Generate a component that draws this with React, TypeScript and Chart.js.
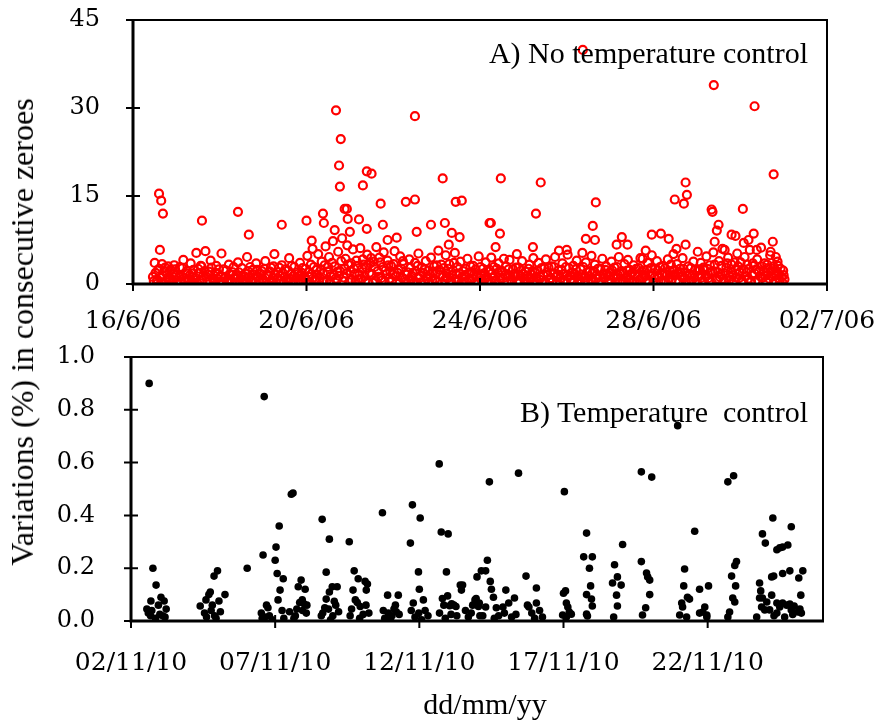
import React, { useEffect, useRef } from "react";
import { Chart, registerables } from "chart.js";

Chart.register(...registerables);

// ---------- Panel A: no temperature control (days since 16/6/06) ----------
const topDateLabels = ["16/6/06", "20/6/06", "24/6/06", "28/6/06", "02/7/06"];
const topYTicks = [0, 15, 30, 45];

const topPeakDays = [0.6, 0.65, 0.69, 0.62, 1.59, 2.42, 2.67, 3.43, 4.0, 4.12, 4.38, 4.4, 4.65, 4.68, 4.79, 4.75, 4.77, 4.88, 4.93, 4.95, 5.0, 5.21, 5.3, 5.39, 5.5, 5.39, 5.71, 5.76, 5.87, 6.08, 6.29, 6.5, 6.5, 6.54, 6.87, 7.14, 7.19, 7.28, 7.35, 7.44, 7.58, 7.53, 8.22, 10.37, 13.39, 14.33, 14.77, 8.48, 9.4, 9.29, 8.25, 8.46, 8.36, 9.22, 8.55, 10.67, 10.6, 10.44, 10.65, 11.27, 11.15, 11.4, 11.96, 12.17, 12.35, 12.49, 12.7, 12.74, 12.77, 12.74, 12.53, 13.34, 13.36, 13.5, 13.46, 13.41, 13.64, 14.06, 13.8, 13.89, 14.31, 14.19, 14.08, 14.38, 14.75, 14.7, 14.82, 14.86, 8.85, 9.82, 10.0, 11.82, 11.75, 13.02];
const topPeakVals = [15.4, 14.2, 12.0, 5.8, 10.8, 12.3, 8.4, 10.1, 10.8, 7.4, 12.0, 10.4, 9.2, 29.6, 24.7, 20.2, 16.6, 12.8, 12.8, 11.1, 8.9, 11.0, 16.8, 19.2, 18.8, 9.4, 13.7, 10.1, 7.5, 7.9, 14.0, 14.4, 28.6, 8.9, 10.1, 18.0, 10.4, 6.7, 8.7, 14.0, 14.2, 8.0, 10.4, 39.9, 33.9, 30.3, 18.7, 18.0, 17.3, 12.0, 10.4, 8.6, 6.3, 6.3, 4.3, 13.9, 9.9, 7.7, 7.5, 8.0, 6.7, 6.7, 8.4, 8.6, 7.7, 14.4, 13.7, 17.3, 15.2, 6.7, 6.0, 12.7, 12.3, 10.1, 9.1, 7.2, 5.8, 12.8, 8.4, 8.2, 8.6, 7.5, 7.0, 5.8, 7.2, 5.5, 4.6, 3.8, 5.1, 5.7, 5.8, 5.7, 4.3, 5.5];

const topBaseDays = [
  0.46, 0.5, 0.55, 0.58, 0.63, 0.67, 0.7, 0.74, 0.79, 0.83,
  0.87, 0.91, 0.95, 0.99, 1.03, 1.08, 1.12, 1.16, 1.2, 1.25,
  1.29, 1.33, 1.37, 1.41, 1.46, 1.5, 1.54, 1.58, 1.62, 1.67,
  1.71, 1.75, 1.79, 1.83, 1.88, 1.92, 1.96, 2.0, 2.04, 2.09,
  2.13, 2.17, 2.21, 2.25, 2.3, 2.34, 2.38, 2.42, 2.46, 2.51,
  2.55, 2.59, 2.63, 2.67, 2.72, 2.76, 2.8, 2.84, 2.88, 2.93,
  2.97, 3.01, 3.05, 3.09, 3.14, 3.18, 3.22, 3.26, 3.3, 3.35,
  3.39, 3.43, 3.47, 3.51, 3.56, 3.6, 3.64, 3.68, 3.72, 3.77,
  3.81, 3.85, 3.89, 3.93, 3.98, 4.02, 4.06, 4.1, 4.14, 4.19,
  4.23, 4.27, 4.31, 4.35, 4.4, 4.44, 4.48, 4.52, 4.56, 4.61,
  4.65, 4.69, 4.73, 4.77, 4.82, 4.86, 4.9, 4.94, 4.98, 5.03,
  5.07, 5.11, 5.15, 5.19, 5.24, 5.28, 5.32, 5.36, 5.4, 5.45,
  5.49, 5.53, 5.57, 5.61, 5.66, 5.7, 5.74, 5.78, 5.82, 5.87,
  5.91, 5.95, 5.99, 6.03, 6.08, 6.12, 6.16, 6.2, 6.24, 6.29,
  6.33, 6.37, 6.41, 6.45, 6.5, 6.54, 6.58, 6.62, 6.66, 6.71,
  6.75, 6.79, 6.83, 6.87, 6.92, 6.96, 7.0, 7.04, 7.08, 7.13,
  7.17, 7.21, 7.25, 7.29, 7.34, 7.38, 7.42, 7.46, 7.5, 7.55,
  7.59, 7.63, 7.67, 7.71, 7.76, 7.8, 7.84, 7.88, 7.92, 7.97,
  8.01, 8.05, 8.09, 8.13, 8.18, 8.22, 8.26, 8.3, 8.34, 8.39,
  8.43, 8.47, 8.51, 8.55, 8.6, 8.64, 8.68, 8.72, 8.76, 8.81,
  8.85, 8.89, 8.93, 8.97, 9.02, 9.06, 9.1, 9.14, 9.18, 9.23,
  9.27, 9.31, 9.35, 9.39, 9.44, 9.48, 9.52, 9.56, 9.6, 9.65,
  9.69, 9.73, 9.77, 9.81, 9.86, 9.9, 9.94, 9.98, 10.02, 10.07,
  10.11, 10.15, 10.19, 10.23, 10.28, 10.32, 10.36, 10.4, 10.44, 10.49,
  10.53, 10.57, 10.61, 10.65, 10.7, 10.74, 10.78, 10.82, 10.86, 10.91,
  10.95, 10.99, 11.03, 11.07, 11.12, 11.16, 11.2, 11.24, 11.28, 11.33,
  11.37, 11.41, 11.45, 11.49, 11.54, 11.58, 11.62, 11.66, 11.7, 11.75,
  11.79, 11.83, 11.87, 11.91, 11.96, 12.0, 12.04, 12.08, 12.12, 12.17,
  12.21, 12.25, 12.29, 12.33, 12.38, 12.42, 12.46, 12.5, 12.54, 12.59,
  12.63, 12.67, 12.71, 12.75, 12.8, 12.84, 12.88, 12.92, 12.96, 13.01,
  13.05, 13.09, 13.13, 13.17, 13.22, 13.26, 13.3, 13.34, 13.38, 13.43,
  13.47, 13.51, 13.55, 13.59, 13.63, 13.68, 13.72, 13.76, 13.8, 13.85,
  13.89, 13.93, 13.97, 14.01, 14.06, 14.1, 14.14, 14.18, 14.22, 14.27,
  14.31, 14.35, 14.39, 14.43, 14.48, 14.52, 14.56, 14.6, 14.64, 14.69,
  14.73, 14.77, 14.81, 14.85, 14.89, 14.93, 14.97, 15.0,
];
const topBaseVals = [
  1.2, 3.6, 0.4, 2.3, 1.1, 3.4, 0.2, 2.8, 1.6, 0.7,
  2.4, 0.3, 3.2, 1.5, 0.1, 2.9, 1.3, 4.1, 0.5, 2.2,
  0.9, 3.5, 1.8, 0.2, 5.3, 2.6, 0.6, 3.0, 1.4, 5.6,
  0.3, 2.1, 4.0, 1.0, 0.4, 3.1, 1.7, 0.1, 5.2, 2.5,
  1.2, 0.3, 3.3, 0.8, 2.0, 0.1, 1.5, 3.7, 0.6, 2.7,
  0.2, 1.8, 4.6, 1.1, 0.4, 2.4, 0.9, 3.5, 1.3, 0.1,
  2.2, 0.5, 3.9, 1.6, 0.3, 2.8, 1.0, 5.1, 0.2, 2.0,
  1.4, 3.2, 0.3, 2.5, 0.9, 4.4, 1.7, 0.2, 2.9, 1.1,
  0.5, 3.6, 1.9, 0.2, 2.6, 4.8, 1.2, 3.3, 6.0, 0.7,
  2.4, 5.1, 1.0, 3.8, 0.4, 6.4, 2.1, 4.6, 1.3, 7.3,
  3.0, 0.6, 5.5, 2.2, 7.8, 1.1, 4.3, 6.6, 0.3, 3.5,
  5.9, 1.7, 4.0, 0.8, 6.1, 2.6, 3.3, 0.5, 5.0, 1.9,
  4.4, 0.2, 2.9, 6.3, 1.2, 3.7, 0.6, 5.4, 2.3, 4.0,
  0.9, 3.1, 1.6, 5.6, 0.3, 2.5, 4.7, 1.1, 3.4, 0.4,
  2.0, 4.2, 0.7, 1.9, 3.6, 0.2, 5.2, 1.4, 2.8, 0.5,
  3.9, 1.3, 0.3, 4.5, 2.1, 0.8, 3.2, 5.7, 1.5, 0.2,
  2.7, 4.9, 1.0, 3.4, 0.4, 2.3, 5.3, 1.7, 0.6, 3.8,
  1.2, 0.3, 2.6, 4.3, 0.8, 2.0, 3.1, 0.2, 1.5, 4.7,
  2.9, 0.6, 1.8, 3.7, 0.3, 2.4, 4.5, 1.1, 0.4, 2.6,
  3.5, 1.0, 2.2, 0.2, 3.0, 1.6, 4.1, 0.7, 2.5, 1.3,
  0.4, 2.8, 1.4, 3.9, 0.9, 2.1, 0.3, 3.3, 1.7, 4.4,
  2.0, 0.5, 3.6, 1.2, 0.2, 2.7, 4.2, 1.5, 0.6, 3.0,
  1.8, 4.6, 0.3, 2.3, 1.0, 3.5, 0.7, 2.9, 5.0, 1.4,
  0.2, 3.1, 1.6, 4.0, 0.8, 2.5, 5.3, 1.1, 3.7, 0.4,
  2.2, 4.8, 0.6, 3.3, 1.5, 0.3, 2.6, 4.3, 1.0, 3.0,
  0.5, 2.0, 3.8, 1.3, 0.2, 2.9, 4.6, 1.7, 0.7, 3.4,
  1.1, 4.1, 2.4, 0.4, 3.2, 1.6, 0.3, 2.7, 4.4, 1.0,
  2.3, 0.6, 3.6, 1.4, 4.9, 0.2, 2.6, 3.9, 1.2, 0.5,
  3.1, 1.8, 0.3, 4.2, 2.2, 0.8, 5.1, 1.5, 3.4, 0.4,
  2.0, 4.4, 1.1, 0.3, 3.0, 1.7, 0.6, 3.8, 2.4, 0.2,
  1.4, 3.6, 0.5, 2.5, 4.7, 1.0, 3.2, 0.3, 5.4, 2.1,
  0.8, 3.9, 1.6, 6.0, 0.4, 2.8, 4.5, 1.2, 3.3, 0.6,
  2.4, 5.2, 1.0, 3.7, 0.3, 4.6, 2.0, 0.9, 5.8, 1.5,
  3.1, 0.5, 4.2, 2.2, 6.2, 1.1, 3.5, 0.4, 2.7, 4.9,
  1.3, 3.0, 0.6, 2.1, 1.0, 2.6, 0.3, 1.5,
];

const topLowDays = [
  0.48, 0.52, 0.56, 0.6, 0.65, 0.69, 0.72, 0.77, 0.81, 0.85,
  0.89, 0.93, 0.97, 1.01, 1.06, 1.1, 1.14, 1.18, 1.23, 1.27,
  1.31, 1.35, 1.39, 1.44, 1.48, 1.52, 1.56, 1.6, 1.65, 1.69,
  1.73, 1.77, 1.81, 1.86, 1.9, 1.94, 1.98, 2.02, 2.07, 2.11,
  2.15, 2.19, 2.23, 2.28, 2.32, 2.36, 2.4, 2.44, 2.49, 2.53,
  2.57, 2.61, 2.65, 2.7, 2.74, 2.78, 2.82, 2.86, 2.91, 2.95,
  2.99, 3.03, 3.07, 3.12, 3.16, 3.2, 3.24, 3.28, 3.33, 3.37,
  3.41, 3.45, 3.49, 3.54, 3.58, 3.62, 3.66, 3.7, 3.75, 3.79,
  3.83, 3.87, 3.91, 3.96, 4.0, 4.04, 4.08, 4.12, 4.17, 4.21,
  4.25, 4.29, 4.33, 4.38, 4.42, 4.46, 4.5, 4.54, 4.59, 4.63,
  4.67, 4.71, 4.75, 4.8, 4.84, 4.88, 4.92, 4.96, 5.01, 5.05,
  5.09, 5.13, 5.17, 5.22, 5.26, 5.3, 5.34, 5.38, 5.43, 5.47,
  5.51, 5.55, 5.59, 5.64, 5.68, 5.72, 5.76, 5.8, 5.85, 5.89,
  5.93, 5.97, 6.01, 6.06, 6.1, 6.14, 6.18, 6.22, 6.27, 6.31,
  6.35, 6.39, 6.43, 6.48, 6.52, 6.56, 6.6, 6.64, 6.69, 6.73,
  6.77, 6.81, 6.85, 6.9, 6.94, 6.98, 7.02, 7.06, 7.11, 7.15,
  7.19, 7.23, 7.27, 7.32, 7.36, 7.4, 7.44, 7.48, 7.53, 7.57,
  7.61, 7.65, 7.69, 7.74, 7.78, 7.82, 7.86, 7.9, 7.95, 7.99,
  8.03, 8.07, 8.11, 8.16, 8.2, 8.24, 8.28, 8.32, 8.37, 8.41,
  8.45, 8.49, 8.53, 8.58, 8.62, 8.66, 8.7, 8.74, 8.79, 8.83,
  8.87, 8.91, 8.95, 9.0, 9.04, 9.08, 9.12, 9.16, 9.21, 9.25,
  9.29, 9.33, 9.37, 9.42, 9.46, 9.5, 9.54, 9.58, 9.63, 9.67,
  9.71, 9.75, 9.79, 9.84, 9.88, 9.92, 9.96, 10.0, 10.05, 10.09,
  10.13, 10.17, 10.21, 10.26, 10.3, 10.34, 10.38, 10.42, 10.47, 10.51,
  10.55, 10.59, 10.63, 10.68, 10.72, 10.76, 10.8, 10.84, 10.89, 10.93,
  10.97, 11.01, 11.05, 11.1, 11.14, 11.18, 11.22, 11.26, 11.31, 11.35,
  11.39, 11.43, 11.47, 11.52, 11.56, 11.6, 11.64, 11.68, 11.73, 11.77,
  11.81, 11.85, 11.89, 11.94, 11.98, 12.02, 12.06, 12.1, 12.15, 12.19,
  12.23, 12.27, 12.31, 12.36, 12.4, 12.44, 12.48, 12.52, 12.57, 12.61,
  12.65, 12.69, 12.73, 12.78, 12.82, 12.86, 12.9, 12.94, 12.99, 13.03,
  13.07, 13.11, 13.15, 13.2, 13.24, 13.28, 13.32, 13.36, 13.41, 13.45,
  13.49, 13.53, 13.57, 13.62, 13.66, 13.7, 13.74, 13.78, 13.83, 13.87,
  13.91, 13.95, 13.99, 14.04, 14.08, 14.12, 14.16, 14.2, 14.25, 14.29,
  14.33, 14.37, 14.41, 14.46, 14.5, 14.54, 14.58, 14.62, 14.67, 14.71,
  14.75, 14.79, 14.83, 14.87, 14.91, 14.95, 14.99, 15.02,
];
const topLowVals = [
  0.5, 1.9, 0.8, 2.6, 0.3, 1.4, 2.2, 0.6, 3.0, 1.1,
  0.2, 1.7, 2.5, 0.6, 1.2, 0.4, 2.7, 0.9, 1.8, 0.3,
  1.5, 0.5, 2.4, 1.0, 0.2, 1.9, 3.1, 0.7, 2.2, 1.2,
  1.6, 0.6, 2.8, 0.2, 1.9, 0.9, 2.5, 1.3, 0.4, 1.0,
  2.3, 0.7, 1.6, 0.4, 2.9, 1.1, 0.3, 2.0, 1.4, 0.8,
  1.3, 0.4, 2.2, 2.9, 0.6, 1.6, 0.2, 2.4, 0.7, 1.7,
  0.9, 2.6, 0.2, 1.3, 2.1, 0.5, 3.0, 1.6, 0.9, 2.8,
  0.6, 1.9, 1.2, 0.4, 2.3, 0.9, 3.1, 1.4, 0.2, 2.0,
  1.3, 0.4, 2.7, 1.1, 0.6, 2.0, 0.3, 1.7, 2.9, 0.8,
  1.6, 0.3, 2.4, 1.8, 3.2, 0.6, 2.9, 0.4, 3.6, 1.5,
  0.9, 2.1, 1.4, 3.9, 0.5, 2.6, 1.8, 3.3, 2.2, 0.7,
  2.6, 0.4, 3.1, 1.6, 0.9, 4.2, 1.3, 2.8, 0.3, 3.5,
  1.6, 3.8, 0.6, 2.2, 4.5, 1.0, 2.9, 0.4, 1.7, 3.2,
  2.2, 0.5, 3.4, 1.3, 1.9, 0.2, 2.6, 3.9, 0.8, 1.6,
  0.6, 2.8, 1.4, 0.3, 2.2, 3.1, 1.0, 0.3, 1.9, 2.5,
  0.9, 2.3, 1.6, 0.6, 3.0, 1.8, 0.4, 2.4, 3.3, 1.2,
  0.7, 1.8, 2.6, 0.2, 1.5, 3.6, 0.8, 2.9, 1.8, 0.3,
  2.2, 1.5, 0.5, 1.8, 3.0, 0.9, 1.6, 2.5, 0.4, 1.1,
  1.5, 2.6, 0.8, 1.2, 2.1, 0.5, 1.8, 2.9, 0.6, 1.9,
  0.6, 2.2, 1.0, 1.6, 0.3, 2.5, 1.3, 0.4, 1.7, 2.8,
  1.6, 0.2, 2.3, 1.7, 0.4, 1.3, 2.6, 0.8, 2.2, 0.5,
  1.2, 2.3, 0.8, 2.7, 1.5, 0.4, 2.0, 2.8, 1.0, 0.3,
  2.9, 1.2, 1.6, 0.4, 2.4, 1.7, 0.5, 1.4, 2.7, 0.8,
  1.9, 0.6, 2.5, 1.3, 0.4, 1.6, 2.9, 0.5, 2.0, 1.3,
  0.7, 1.8, 2.2, 0.9, 2.6, 1.4, 0.4, 1.7, 2.4, 1.6,
  1.4, 0.8, 2.3, 2.8, 0.9, 1.5, 0.3, 2.2, 1.9, 0.4,
  2.3, 0.7, 1.5, 2.0, 0.4, 2.6, 1.3, 0.8, 2.2, 1.6,
  1.4, 2.4, 0.5, 2.7, 1.8, 1.1, 0.3, 2.3, 2.9, 1.6,
  0.5, 2.7, 1.6, 1.0, 3.3, 1.5, 2.4, 0.6, 1.9, 2.6,
  1.2, 2.6, 2.0, 1.4, 0.5, 2.7, 1.6, 1.1, 0.3, 2.5,
  2.4, 1.1, 2.8, 1.4, 2.6, 0.5, 1.9, 2.2, 3.3, 0.9,
  2.0, 1.2, 3.1, 0.9, 1.8, 3.5, 0.6, 2.1, 1.5, 3.7,
  1.1, 3.0, 2.0, 0.6, 2.5, 1.3, 3.3, 2.6, 0.5, 3.5,
  1.8, 2.5, 0.6, 1.3, 3.0, 2.1, 1.4, 3.3, 0.9, 2.2,
  2.6, 1.4, 1.6, 3.1, 0.4, 1.2, 2.3, 0.8,
];

// ---------- Panel B: temperature control (days since 02/11/10) ----------
const bottomDateLabels = ["02/11/10", "07/11/10", "12/11/10", "17/11/10", "22/11/10"];

const bottomDays = [
  0.63, 0.76, 0.87, 0.69, 1.04, 1.15, 0.55, 0.72, 1.22, 0.68, 0.85, 1.0, 1.1, 0.6, 0.95, 1.18,
  2.4, 2.6, 2.7, 2.75, 2.88, 3.0, 3.05, 3.26, 2.78, 2.9, 2.62, 2.82, 2.55, 2.95, 3.1,
  4.03,
  4.58, 4.62, 4.52, 4.7, 4.75, 4.55, 4.8, 5.0, 5.03, 5.14, 5.07, 5.28, 5.17, 5.1, 5.24, 5.3, 4.65, 4.9,
  5.56, 5.62, 5.9, 5.8, 6.04, 5.94, 5.85, 6.0, 6.1, 5.5, 5.7, 5.95, 6.08, 5.65, 5.75,
  6.63, 6.88, 6.77, 6.98, 6.88, 7.15, 6.77, 7.05, 7.1, 6.6, 6.65, 6.85, 7.0, 6.72, 6.92, 7.2,
  7.57, 7.74, 7.88, 8.12, 8.2, 8.16, 7.7, 7.78, 7.85, 7.95, 8.15, 7.6, 7.93, 8.25, 7.65, 8.05,
  8.72, 8.9, 9.27, 9.17, 8.75, 8.92, 9.05, 9.2, 8.8, 9.0, 9.12, 9.3,
  9.76, 10.03, 9.69, 9.97, 10.0, 9.79, 10.14, 9.72, 9.98, 10.3, 10.2, 9.85, 10.08,
  10.69, 10.76, 11.0, 10.94, 10.98, 10.8, 10.85, 11.05, 11.12, 11.2, 11.27, 11.42, 11.5, 11.46,
  12.0, 12.15, 12.36, 12.43, 11.93, 11.97, 11.85, 12.05, 12.1, 12.3, 10.7, 10.9, 11.1, 11.3,
  11.6, 11.7, 11.8, 12.2, 12.46, 12.5, 12.57, 12.67, 12.9, 13.1, 13.3, 13.0, 12.08, 12.3,
  12.75, 12.95, 13.2, 13.35, 12.6,
  13.44, 13.7, 14.06, 13.75, 14.06, 14.17, 13.9, 14.0, 14.27, 13.8,
  15.03, 15.0, 15.07, 15.1, 15.15, 15.2, 14.97, 15.27, 15.1,
  15.8, 15.7, 16.0, 15.9, 15.94, 15.8, 15.97, 16.0, 15.8, 15.83,
  17.05, 16.77, 16.87, 16.7, 17.0, 16.84, 16.87, 16.74,
  17.7, 18.06, 17.7, 17.88, 17.92, 17.99, 17.99, 17.85, 17.74,
  18.96, 19.2, 19.17, 19.3, 19.37, 19.1, 19.13, 19.03, 19.27, 19.55,
  19.72, 20.03, 19.9, 19.83, 19.97, 19.72, 19.97,
  20.7, 20.9, 21.0, 20.94, 20.83, 20.97, 20.87, 20.94, 20.76, 20.7,
  22.26, 22.9, 21.9, 22.0, 22.4, 22.5, 22.6, 22.78, 21.8, 21.84, 21.9, 21.8, 21.87, 21.98, 21.7,
  22.22, 22.29, 22.6, 22.85, 23.3, 23.16, 23.23, 22.22, 22.4, 22.6, 22.85, 23.0, 23.2, 23.13,
  22.4, 22.67, 22.05, 22.5, 22.74, 22.9, 22.15, 22.3, 22.95, 23.25,
];
const bottomVals = [
  0.9, 0.2, 0.136, 0.076, 0.09, 0.076, 0.045, 0.04, 0.045, 0.02, 0.01, 0.025, 0.02, 0.03, 0.06, 0.015,
  0.057, 0.08, 0.1, 0.11, 0.17, 0.19, 0.076, 0.1, 0.04, 0.02, 0.015, 0.06, 0.03, 0.01, 0.035,
  0.2,
  0.25, 0.85, 0.03, 0.06, 0.05, 0.01, 0.02, 0.23, 0.28, 0.36, 0.18, 0.16, 0.117, 0.08, 0.04, 0.01, 0.015, 0.005,
  0.48, 0.485, 0.155, 0.13, 0.12, 0.08, 0.07, 0.065, 0.06, 0.035, 0.02, 0.04, 0.03, 0.01, 0.045,
  0.385, 0.31, 0.185, 0.13, 0.11, 0.13, 0.083, 0.075, 0.06, 0.02, 0.03, 0.045, 0.02, 0.05, 0.005, 0.035,
  0.3, 0.19, 0.16, 0.15, 0.14, 0.117, 0.117, 0.08, 0.07, 0.055, 0.06, 0.02, 0.01, 0.03, 0.045, 0.025,
  0.41, 0.098, 0.098, 0.06, 0.04, 0.03, 0.02, 0.035, 0.01, 0.005, 0.045, 0.025,
  0.44, 0.39, 0.295, 0.186, 0.12, 0.068, 0.08, 0.04, 0.03, 0.02, 0.04, 0.015, 0.005,
  0.595, 0.337, 0.33, 0.186, 0.095, 0.085, 0.06, 0.058, 0.065, 0.06, 0.055, 0.136, 0.136, 0.117,
  0.167, 0.19, 0.23, 0.527, 0.08, 0.085, 0.06, 0.055, 0.02, 0.19, 0.03, 0.01, 0.025, 0.02,
  0.04, 0.015, 0.03, 0.02, 0.15, 0.12, 0.09, 0.05, 0.053, 0.068, 0.087, 0.117, 0.068, 0.053,
  0.02, 0.03, 0.015, 0.025, 0.01,
  0.56, 0.17, 0.125, 0.06, 0.068, 0.04, 0.03, 0.01, 0.015, 0.053,
  0.49, 0.105, 0.114, 0.068, 0.053, 0.034, 0.023, 0.026, 0.015,
  0.333, 0.243, 0.243, 0.2, 0.133, 0.1, 0.083, 0.057, 0.026, 0.019,
  0.29, 0.213, 0.167, 0.144, 0.136, 0.098, 0.057, 0.015,
  0.565, 0.545, 0.225, 0.182, 0.167, 0.155, 0.1, 0.05, 0.023,
  0.74, 0.197, 0.133, 0.09, 0.083, 0.068, 0.053, 0.023, 0.015, 0.34,
  0.12, 0.133, 0.053, 0.034, 0.023, 0.03, 0.015,
  0.527, 0.55, 0.225, 0.21, 0.17, 0.133, 0.087, 0.072, 0.034, 0.015,
  0.39, 0.357, 0.33, 0.295, 0.27, 0.277, 0.28, 0.288, 0.144, 0.114, 0.087, 0.087, 0.053, 0.042, 0.015,
  0.167, 0.17, 0.18, 0.19, 0.19, 0.163, 0.098, 0.098, 0.068, 0.068, 0.064, 0.057, 0.045, 0.034,
  0.03, 0.015, 0.072, 0.053, 0.06, 0.042, 0.042, 0.02, 0.025, 0.03,
];

const W = 883;
const TOP_H = 340;
const BOT_H = 382;

const framePlugin = {
  id: "frame",
  afterDatasetsDraw(chart: any) {
    const { ctx, chartArea: a, scales } = chart;
    ctx.save();
    ctx.strokeStyle = "#000";
    ctx.lineWidth = 2;
    ctx.strokeRect(a.left, a.top, a.right - a.left, a.bottom - a.top);
    ctx.lineWidth = 3;
    ctx.beginPath();
    ctx.moveTo(a.left, a.top - 1);
    ctx.lineTo(a.left, a.bottom);
    ctx.lineTo(a.right + 1, a.bottom);
    ctx.stroke();
    ctx.lineWidth = 2;
    ctx.beginPath();
    scales.x.ticks.forEach((t: any) => {
      const px = scales.x.getPixelForValue(t.value);
      ctx.moveTo(px, a.bottom - 6);
      ctx.lineTo(px, a.bottom + 7);
    });
    scales.y.ticks.forEach((t: any) => {
      const py = scales.y.getPixelForValue(t.value);
      ctx.moveTo(a.left - 7, py);
      ctx.lineTo(a.left + 7, py);
    });
    ctx.stroke();
    ctx.restore();
  },
};

const tickFont = { family: "'DejaVu Serif', serif", size: 24 };
const xTickFont = { family: "'DejaVu Serif', serif", size: 25 };

function fitX(h: number) {
  return (s: any) => {
    s.height = h;
    s.paddingLeft = 0;
    s.paddingRight = 0;
  };
}
function fitY(w: number) {
  return (s: any) => {
    s.width = w;
    s.paddingTop = 0;
    s.paddingBottom = 0;
  };
}

function makeTop(canvas: HTMLCanvasElement) {
  const base = topBaseDays.map((d, i) => ({ x: d, y: topBaseVals[i] }));
  const low = topLowDays.map((d, i) => ({ x: d, y: topLowVals[i] }));
  const peaks = topPeakDays.map((d, i) => ({ x: d, y: topPeakVals[i] }));
  return new Chart(canvas, {
    type: "scatter",
    data: {
      datasets: [
        {
          data: [...low, ...base, ...peaks],
          pointStyle: "circle",
          pointRadius: 4,
          pointBorderWidth: 2.2,
          pointBorderColor: "#ff0000",
          pointBackgroundColor: "rgba(255,255,255,0)",
        },
      ],
    },
    options: {
      responsive: false,
      animation: false,
      events: [],
      layout: { padding: { left: 0, right: W - 827, top: 20, bottom: 0 } },
      plugins: { legend: { display: false }, tooltip: { enabled: false } },
      scales: {
        x: {
          type: "linear",
          min: 0,
          max: 16,
          grid: { display: false },
          border: { display: false },
          afterFit: fitX(TOP_H - 284),
          ticks: {
            stepSize: 4,
            color: "#000",
            font: xTickFont,
            padding: 14,
            maxRotation: 0,
            callback: (_v: any, i: number) => topDateLabels[i],
          },
        },
        y: {
          min: 0,
          max: 45,
          grid: { display: false },
          border: { display: false },
          afterFit: fitY(133),
          afterBuildTicks: (s: any) => {
            s.ticks = topYTicks.map((v) => ({ value: v }));
          },
          ticks: { color: "#000", font: tickFont, padding: 25 },
        },
      },
    },
    plugins: [framePlugin],
  });
}

function makeBottom(canvas: HTMLCanvasElement) {
  const pts = bottomDays.map((d, i) => ({ x: d, y: bottomVals[i] }));
  return new Chart(canvas, {
    type: "scatter",
    data: {
      datasets: [
        {
          data: pts,
          pointStyle: "circle",
          pointRadius: 3.8,
          pointBorderWidth: 0,
          pointBackgroundColor: "#000",
        },
      ],
    },
    options: {
      responsive: false,
      animation: false,
      events: [],
      layout: { padding: { left: 0, right: W - 823, top: 17, bottom: 0 } },
      plugins: { legend: { display: false }, tooltip: { enabled: false } },
      scales: {
        x: {
          type: "linear",
          min: 0,
          max: 24,
          grid: { display: false },
          border: { display: false },
          afterFit: fitX(BOT_H - (621 - TOP_H)),
          ticks: {
            stepSize: 5,
            includeBounds: false,
            color: "#000",
            font: xTickFont,
            padding: 19,
            maxRotation: 0,
            callback: (_v: any, i: number) => bottomDateLabels[i],
          },
        },
        y: {
          min: 0,
          max: 1,
          grid: { display: false },
          border: { display: false },
          afterFit: fitY(131),
          ticks: {
            stepSize: 0.2,
            color: "#000",
            font: tickFont,
            padding: 28,
            callback: (v: any) => Number(v).toFixed(1),
          },
        },
      },
    },
    plugins: [framePlugin],
  });
}

export default function App() {
  const topRef = useRef<HTMLCanvasElement>(null);
  const botRef = useRef<HTMLCanvasElement>(null);

  useEffect(() => {
    const c1 = makeTop(topRef.current!);
    const c2 = makeBottom(botRef.current!);
    return () => {
      c1.destroy();
      c2.destroy();
    };
  }, []);

  const serif = "'Liberation Serif', 'Times New Roman', serif";

  return (
    <div style={{ position: "fixed", left: 0, top: 0, width: W, height: 722, background: "#fff", overflow: "hidden" }}>
      <canvas ref={topRef} width={W} height={TOP_H} style={{ position: "absolute", left: 0, top: 0, width: W, height: TOP_H }} />
      <canvas ref={botRef} width={W} height={BOT_H} style={{ position: "absolute", left: 0, top: TOP_H, width: W, height: BOT_H }} />
      <div
        style={{
          position: "absolute",
          right: W - 808,
          top: 38,
          fontFamily: serif,
          fontSize: 30,
          lineHeight: "30px",
          whiteSpace: "pre",
          color: "#000",
        }}
      >
        A) No temperature control
      </div>
      <div
        style={{
          position: "absolute",
          right: W - 808,
          top: 397,
          fontFamily: serif,
          fontSize: 30,
          lineHeight: "30px",
          whiteSpace: "pre",
          color: "#000",
        }}
      >
        {"B) Temperature  control"}
      </div>
      <div
        style={{
          position: "absolute",
          left: 22,
          top: 332,
          transform: "translate(-50%, -50%) rotate(-90deg)",
          fontFamily: serif,
          fontSize: 32,
          lineHeight: "32px",
          whiteSpace: "nowrap",
          color: "#000",
        }}
      >
        Variations (%) in consecutive zeroes
      </div>
      <div
        style={{
          position: "absolute",
          left: 485,
          top: 689,
          transform: "translateX(-50%)",
          fontFamily: serif,
          fontSize: 30,
          lineHeight: "30px",
          whiteSpace: "nowrap",
          color: "#000",
        }}
      >
        dd/mm/yy
      </div>
    </div>
  );
}
